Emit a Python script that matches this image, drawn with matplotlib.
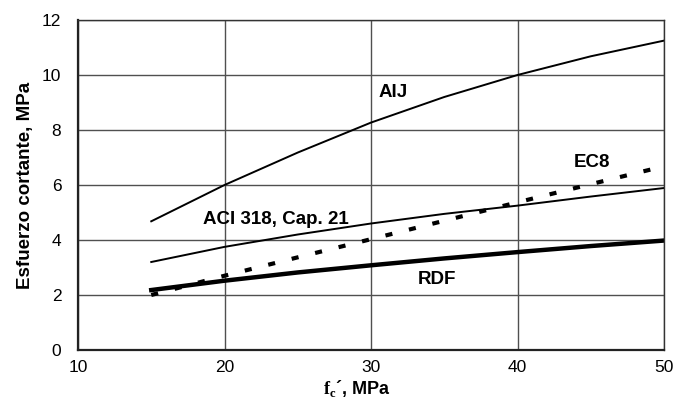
import numpy as np
import matplotlib.pyplot as plt

#Values.
fc = [15, 20, 25, 30, 35, 40, 45, 50]
aij = [4.68, 6.0, 7.18, 8.27, 9.2, 10.0, 10.68, 11.25]
aci = [3.2, 3.75, 4.2, 4.6, 4.95, 5.25, 5.58, 5.89]
ec8 = [2.0, 2.7, 3.37, 4.03, 4.7, 5.37, 6.03, 6.68]
rdf = [2.18, 2.52, 2.82, 3.08, 3.33, 3.56, 3.78, 3.98]

plt.rcParams['font.family'] = ['Liberation Sans', 'DejaVu Sans']
plt.rcParams['mathtext.fontset'] = 'custom'
plt.rcParams['mathtext.bf'] = 'Liberation Serif:bold'
plt.rcParams['mathtext.rm'] = 'Liberation Serif'

fig = plt.figure(figsize=(6.73, 4.05), dpi=100)
ax = fig.add_axes([78/673, 1-350/405, (664-78)/673, 330/405])

#Curves.
ax.plot(fc, aij, color='black', lw=1.4)
ax.plot(fc, aci, color='black', lw=1.4)
line, = ax.plot(fc, ec8, color='black', lw=3)
line.set_dashes((1.7, 4.1))
ax.plot(fc, rdf, color='black', lw=3.2)

#Curve labels.
ax.text(31.5, 9.35, 'AIJ', ha='center', va='center', fontsize=13.5, fontweight='bold')
ax.text(23.5, 4.76, 'ACI 318, Cap. 21', ha='center', va='center', fontsize=13.5, fontweight='bold')
ax.text(45.1, 6.8, 'EC8', ha='center', va='center', fontsize=13.5, fontweight='bold')
ax.text(34.5, 2.58, 'RDF', ha='center', va='center', fontsize=13.5, fontweight='bold')

ax.set_xlim(10, 50)
ax.set_ylim(0, 12)
ax.set_xticks([10, 20, 30, 40, 50])
ax.set_yticks([0, 2, 4, 6, 8, 10, 12])
ax.tick_params(length=0, labelsize=12.5)
ax.tick_params(axis='y', pad=12)
ax.tick_params(axis='x', pad=7)

ax.grid(True, color='#505050', lw=1)
ax.set_axisbelow(True)
for s in ['left', 'bottom']:
    ax.spines[s].set_linewidth(1.6)
    ax.spines[s].set_color('#222222')
for s in ['top', 'right']:
    ax.spines[s].set_linewidth(1.0)
    ax.spines[s].set_color('#333333')

ax.set_ylabel('Esfuerzo cortante, MPa', fontsize=13.5, fontweight='bold', labelpad=6)
ax.set_xlabel(r'$\mathbf{f}_\mathbf{c}$´, MPa', fontsize=13, fontweight='bold', labelpad=1)
ax.xaxis.set_label_coords(0.475, -0.085)

fig.savefig('out.png', dpi=100)
